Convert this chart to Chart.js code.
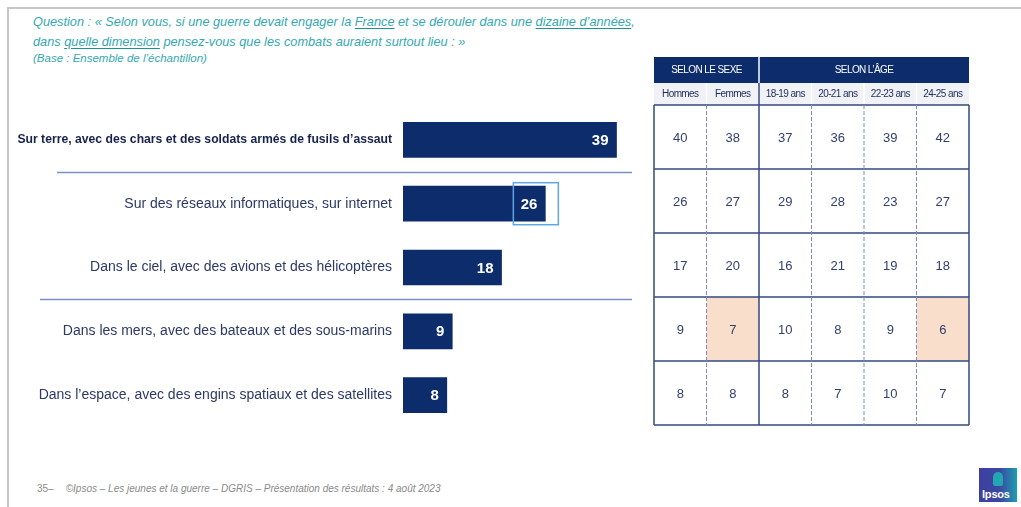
<!DOCTYPE html>
<html lang="fr">
<head>
<meta charset="utf-8">
<title>Dimension des combats</title>
<script src="https://cdn.jsdelivr.net/npm/chart.js@4.4.0/dist/chart.umd.min.js"></script>
<style>
  body { margin: 0; width: 1021px; height: 507px; background: #fff; position: relative; overflow: hidden; font-family: 'Liberation Sans', Arial, sans-serif; }
  .frame { position: absolute; left: 7px; top: 7px; right: -5px; bottom: -5px; border-left: 2px solid #c8c8c8; border-top: 2px solid #c8c8c8; }
  .question { position: absolute; left: 33px; top: 12px; color: #34a9b1; font-style: italic; font-size: 12.75px; line-height: 20px; white-space: nowrap; }
  .question u { text-decoration-color: #1f8f97; text-underline-offset: 2px; }
  .question .base { font-size: 11.5px; line-height: 13px; display: block; }
  #barWrap { position: absolute; left: 0; top: 100px; width: 650px; height: 340px; }
  #tableWrap { position: absolute; left: 650px; top: 50px; width: 330px; height: 385px; }
  .footer { position: absolute; left: 37px; top: 483px; font-size: 10px; color: #8a8a8a; white-space: nowrap; }
  .footer i { margin-left: 12px; }
  .logo { position: absolute; left: 979px; top: 468px; width: 38px; height: 34px; background: linear-gradient(90deg, #3d3f9e 0%, #3b48a2 55%, #1d9fb0 100%); }
  .logo .head { position: absolute; left: 14px; top: 4px; width: 10px; height: 14px; background: #22a7b0; border-radius: 5px 5px 2px 2px; }
  .logo span { position: absolute; left: 3px; bottom: 2px; color: #fff; font-weight: bold; font-size: 11px; letter-spacing: -0.2px; }
</style>
</head>
<body>
<div class="frame"></div>
<div class="question">
  Question : « Selon vous, si une guerre devait engager la <u>France</u> et se dérouler dans une <u>dizaine d’années</u>,<br>
  dans <u>quelle dimension</u> pensez-vous que les combats auraient surtout lieu : »
  <span class="base">(Base : Ensemble de l’échantillon)</span>
</div>

<div id="barWrap"><canvas id="barChart"></canvas></div>
<div id="tableWrap"><canvas id="tableChart"></canvas></div>

<div class="footer">35–<i>©Ipsos – Les jeunes et la guerre – DGRIS – Présentation des résultats : 4 août 2023</i></div>
<div class="logo"><div class="head"></div><span>Ipsos</span></div>

<script>
// Données
const categories = [
  'Sur terre, avec des chars et des soldats armés de fusils d’assaut',
  'Sur des réseaux informatiques, sur internet',
  'Dans le ciel, avec des avions et des hélicoptères',
  'Dans les mers, avec des bateaux et des sous-marins',
  'Dans l’espace, avec des engins spatiaux et des satellites'
];
const totals = [39, 26, 18, 9, 8];

const groupLabels = ['SELON LE SEXE', 'SELON L’ÂGE'];
const groupSpans = [2, 4];
const columnLabels = ['Hommes', 'Femmes', '18-19 ans', '20-21 ans', '22-23 ans', '24-25 ans'];
const tableRows = [
  [40, 38, 37, 36, 39, 42],
  [26, 27, 29, 28, 23, 27],
  [17, 20, 16, 21, 19, 18],
  [9, 7, 10, 8, 9, 6],
  [8, 8, 8, 7, 10, 7]
];
// cellules surlignées [ligne, colonne]
const highlightCells = [[3, 1], [3, 5]];
const highlightBar = 1;
const separatorsAfter = [0, 2];

const NAVY = '#0d2c6b';
const FONT = "'Liberation Sans', Arial, sans-serif";

// Texte des valeurs, séparateurs et encadré du 26
const barExtras = {
  id: 'barExtras',
  afterDatasetsDraw(chart) {
    const ctx = chart.ctx;
    const y = chart.scales.y;
    const area = chart.chartArea;
    const bars = chart.getDatasetMeta(0).data;
    ctx.save();
    // lignes de séparation
    const starts = [57, 40];
    ctx.strokeStyle = '#7f8cc8';
    ctx.lineWidth = 1.3;
    separatorsAfter.forEach((k, i) => {
      const py = Math.round((y.getPixelForValue(k) + y.getPixelForValue(k + 1)) / 2) + 0.5;
      ctx.beginPath();
      ctx.moveTo(starts[i], py);
      ctx.lineTo(area.right + 10, py);
      ctx.stroke();
    });
    // valeurs
    ctx.fillStyle = '#fff';
    ctx.font = 'bold 15px ' + FONT;
    ctx.textAlign = 'right';
    ctx.textBaseline = 'middle';
    bars.forEach((bar, i) => {
      ctx.fillText(totals[i], bar.x - 8, bar.y + 1);
    });
    // encadré
    const hb = bars[highlightBar];
    ctx.strokeStyle = '#5ea6e6';
    ctx.lineWidth = 1.5;
    ctx.strokeRect(hb.x - 32, hb.y - 21, 45, 42);
    ctx.restore();
  }
};

new Chart(document.getElementById('barChart'), {
  type: 'bar',
  data: {
    labels: categories,
    datasets: [{ data: totals, backgroundColor: NAVY, barThickness: 35 }]
  },
  options: {
    indexAxis: 'y',
    responsive: true,
    maintainAspectRatio: false,
    animation: false,
    layout: { padding: { top: 8, bottom: 13, right: 28, left: 0 } },
    plugins: { legend: { display: false }, tooltip: { enabled: false } },
    scales: {
      x: { min: 0, max: 40, display: false },
      y: {
        grid: { display: false, drawTicks: false },
        border: { display: false },
        afterFit: s => { s.width = 403; s.paddingTop = 0; s.paddingBottom = 0; },
        ticks: {
          padding: 11,
          color: ctx => ctx.index === 0 ? '#17224d' : '#2c3866',
          font: ctx => ctx.index === 0
            ? { family: FONT, size: 12.2, weight: 'bold' }
            : { family: FONT, size: 14 }
        }
      }
    }
  },
  plugins: [barExtras]
});

// Tableau de droite dessiné sur les échelles de la librairie
const tableDraw = {
  id: 'tableDraw',
  afterDraw(chart) {
    const ctx = chart.ctx;
    const xs = chart.scales.x, ys = chart.scales.y;
    const area = chart.chartArea;
    const nc = columnLabels.length, nr = tableRows.length;
    const cw = (area.right - area.left) / nc;
    const rh = (area.bottom - area.top) / nr;
    const h2Top = area.top - 22, h1Top = area.top - 48;
    const colLeft = j => xs.getPixelForValue(j) - cw / 2;
    const rowTop = i => ys.getPixelForValue(i) - rh / 2;
    ctx.save();

    // en-tête 1
    ctx.fillStyle = NAVY;
    ctx.fillRect(area.left, h1Top, area.right - area.left, 26);
    ctx.fillStyle = '#fff';
    ctx.font = '10px ' + FONT;
    ctx.letterSpacing = '-0.6px';
    ctx.textAlign = 'center';
    ctx.textBaseline = 'middle';
    let c = 0;
    groupLabels.forEach((g, k) => {
      const l = colLeft(c), r = colLeft(c + groupSpans[k] - 1) + cw;
      ctx.fillText(g, (l + r) / 2, h1Top + 13);
      c += groupSpans[k];
      if (c < nc) {
        ctx.strokeStyle = '#fff';
        ctx.lineWidth = 1.5;
        ctx.beginPath(); ctx.moveTo(r, h1Top); ctx.lineTo(r, h1Top + 26); ctx.stroke();
      }
    });

    // en-tête 2
    ctx.fillStyle = '#f1f2f5';
    ctx.fillRect(area.left, h2Top, area.right - area.left, 22);
    ctx.fillStyle = '#1d2a5a';
    columnLabels.forEach((lab, j) => {
      ctx.fillText(lab, xs.getPixelForValue(j), h2Top + 11);
      if (j > 0) {
        ctx.strokeStyle = '#fff';
        ctx.lineWidth = 1.5;
        ctx.beginPath(); ctx.moveTo(colLeft(j), h2Top); ctx.lineTo(colLeft(j), area.top); ctx.stroke();
      }
    });
    ctx.letterSpacing = '0px';

    // cellules surlignées
    ctx.fillStyle = '#f9dfcb';
    highlightCells.forEach(([i, j]) => ctx.fillRect(colLeft(j), rowTop(i), cw, rh));

    // valeurs
    ctx.fillStyle = '#313f6e';
    ctx.font = '13px ' + FONT;
    tableRows.forEach((row, i) => row.forEach((v, j) => {
      ctx.fillText(v, xs.getPixelForValue(j), ys.getPixelForValue(i) + 1);
    }));

    // lignes horizontales
    ctx.strokeStyle = '#34487f';
    ctx.lineWidth = 1.3;
    for (let i = 0; i <= nr; i++) {
      const py = i < nr ? rowTop(i) : area.bottom;
      ctx.beginPath(); ctx.moveTo(area.left, py); ctx.lineTo(area.right, py); ctx.stroke();
    }
    // lignes verticales
    const bounds = [0];
    groupSpans.reduce((a, s) => { bounds.push(a + s); return a + s; }, 0);
    for (let j = 0; j <= nc; j++) {
      const px = j < nc ? colLeft(j) : area.right;
      const solid = bounds.includes(j);
      ctx.strokeStyle = solid ? '#34487f' : '#7d8bbd';
      ctx.lineWidth = solid ? 1.5 : 1;
      ctx.setLineDash(solid ? [] : [4, 2]);
      ctx.beginPath();
      ctx.moveTo(px, solid && j > 0 && j < nc ? h2Top : area.top);
      ctx.lineTo(px, area.bottom);
      ctx.stroke();
    }
    ctx.setLineDash([]);
    ctx.restore();
  }
};

new Chart(document.getElementById('tableChart'), {
  type: 'bar',
  data: { labels: columnLabels, datasets: [] },
  options: {
    responsive: true,
    maintainAspectRatio: false,
    animation: false,
    layout: { padding: { top: 55, bottom: 10, left: 4, right: 11 } },
    plugins: { legend: { display: false }, tooltip: { enabled: false } },
    scales: {
      x: { type: 'category', display: false, offset: true },
      y: { type: 'category', labels: tableRows.map((r, i) => 'r' + i), display: false, offset: true }
    }
  },
  plugins: [tableDraw]
});
</script>
</body>
</html>
